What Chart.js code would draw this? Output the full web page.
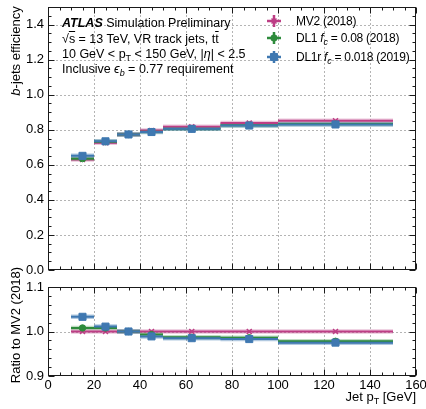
<!DOCTYPE html>
<html>
<head>
<meta charset="utf-8">
<script src="https://cdn.jsdelivr.net/npm/chart.js@4.4.1/dist/chart.umd.min.js"></script>
<style>
  body { margin: 0; background: #fff; font-family: "Liberation Sans", Arial, sans-serif; }
  #wrap { position: relative; width: 426px; height: 409px; overflow: hidden; }
  canvas { position: absolute; left: 0; }
  .t { position: absolute; font-size: 12.5px; line-height: 14px; color: #000; white-space: nowrap; }
  .t sub { font-size: 9px; vertical-align: -3px; line-height: 0; }
  .lg { font-size: 12px; letter-spacing: -0.25px; }
  .rot { transform: translate(-50%, -50%) rotate(-90deg); font-size: 13px; }
  .ov { text-decoration: overline; }
</style>
</head>
<body>
<div id="wrap">
  <canvas id="effChart" width="426" height="280" style="top:0"></canvas>
  <canvas id="ratioChart" width="426" height="129" style="top:280px"></canvas>

  <div class="t" style="left:62px;top:16px"><b><i>ATLAS</i></b> Simulation Preliminary</div>
  <div class="t" style="left:62px;top:32px">√<span class="ov">s</span> = 13 TeV, VR track jets, t<span class="ov">t</span></div>
  <div class="t" style="left:62px;top:47px">10 GeV &lt; p<sub>T</sub> &lt; 150 GeV, |<i>η</i>| &lt; 2.5</div>
  <div class="t" style="left:62px;top:62px">Inclusive <i>ϵ</i><sub><i>b</i></sub> = 0.77 requirement</div>

  <div class="t lg" style="left:296px;top:14px">MV2 (2018)</div>
  <div class="t lg" style="left:296px;top:31px">DL1 <i>f</i><sub><i>c</i></sub> = 0.08 (2018)</div>
  <div class="t lg" style="left:296px;top:50px">DL1r <i>f</i><sub><i>c</i></sub> = 0.018 (2019)</div>

  <div class="t rot" style="left:16px;top:51px"><i>b</i>-jets efficiency</div>
  <div class="t rot" style="left:16px;top:325px">Ratio to MV2 (2018)</div>
  <div class="t" style="right:10px;top:390px;font-size:13px">Jet p<sub>T</sub> [GeV]</div>
</div>

<script>
// bins in jet pT [GeV]
const binLow = [10, 20, 30, 40, 50, 75, 100];
const binHigh = [20, 30, 40, 50, 75, 100, 150];

// b-jet efficiency per bin
const effMV2 = [0.630, 0.726, 0.773, 0.795, 0.817, 0.838, 0.851];
const effDL1 = [0.635, 0.732, 0.773, 0.789, 0.806, 0.826, 0.832];
const effDL1r = [0.651, 0.734, 0.773, 0.787, 0.805, 0.824, 0.830];

// ratio to MV2
const ratioMV2 = [1.000, 1.000, 1.000, 1.000, 1.000, 1.000, 1.000];
const ratioDL1 = [1.008, 1.008, 1.000, 0.993, 0.987, 0.986, 0.978];
const ratioDL1r = [1.033, 1.011, 1.000, 0.989, 0.985, 0.983, 0.975];

const FONT = "'Liberation Sans', Arial, sans-serif";

const series = [
  { color: "#bd3e85", band: "rgba(189,62,133,0.3)", style: "crossRot", radius: 3.5 },
  { color: "#2e8b3c", band: "rgba(46,139,60,0.3)", style: "circle", radius: 3.2 },
  { color: "#3f78b1", band: "rgba(63,120,177,0.4)", style: "rect", radius: 5 },
];

function stepData(vals) {
  const d = [];
  vals.forEach((v, i) => {
    d.push({ x: binLow[i], y: v }, { x: binHigh[i], y: v }, { x: binHigh[i], y: null });
  });
  return d;
}

function centerData(vals) {
  return vals.map((v, i) => ({ x: (binLow[i] + binHigh[i]) / 2, y: v }));
}

function buildDatasets(lists) {
  const out = [];
  lists.forEach((vals, k) => {
    const s = series[k];
    out.push({
      data: stepData(vals), borderColor: s.band, borderWidth: 4.5, borderCapStyle: "butt",
      pointRadius: 0, spanGaps: false, order: 30 - k,
    });
    out.push({
      data: stepData(vals), borderColor: s.color, borderWidth: 2, borderCapStyle: "butt",
      pointRadius: 0, spanGaps: false, order: 20 - k,
    });
    out.push({
      data: centerData(vals), showLine: false, pointStyle: s.style, pointRadius: s.radius,
      pointBorderWidth: s.style === "crossRot" ? 1.5 : 1,
      pointBackgroundColor: s.color, pointBorderColor: s.color, order: 10 - k,
    });
  });
  return out;
}

// dashed grid + inward ticks on all four sides
const frame = {
  id: "frame",
  beforeDatasetsDraw(chart, args, o) {
    const { ctx, chartArea: a, scales: { x, y } } = chart;
    ctx.save();
    ctx.strokeStyle = "#b4b4b4";
    ctx.lineWidth = 1;
    ctx.setLineDash([2, 2]);
    o.xGrid.forEach((v) => {
      const px = Math.round(x.getPixelForValue(v)) + 0.5;
      ctx.beginPath(); ctx.moveTo(px, a.top); ctx.lineTo(px, a.bottom); ctx.stroke();
    });
    o.yGrid.forEach((v) => {
      const py = Math.round(y.getPixelForValue(v)) + 0.5;
      ctx.beginPath(); ctx.moveTo(a.left, py); ctx.lineTo(a.right, py); ctx.stroke();
    });
    ctx.restore();
  },
  afterDraw(chart, args, o) {
    const { ctx, chartArea: a, scales: { x, y } } = chart;
    ctx.save();
    ctx.strokeStyle = "#1a1a1a";
    ctx.lineWidth = 1;
    const L = Math.round(a.left) + 0.5, R = Math.round(a.right) - 0.5;
    const T = Math.round(a.top) + 0.5, B = Math.round(a.bottom) - 0.5;
    ctx.strokeRect(L, T, R - L, B - T);
    ctx.beginPath();
    const nx = Math.round((x.max - x.min) / o.xMinor);
    for (let i = 0; i <= nx; i++) {
      const v = x.min + i * o.xMinor;
      const len = Math.abs(v / o.xMajor - Math.round(v / o.xMajor)) < 1e-6 ? 6 : 3;
      const px = Math.round(x.getPixelForValue(v)) + 0.5;
      ctx.moveTo(px, B); ctx.lineTo(px, B - len);
      ctx.moveTo(px, T); ctx.lineTo(px, T + len);
    }
    const ny = Math.round((y.max - y.min) / o.yMinor);
    for (let i = 0; i <= ny; i++) {
      const v = y.min + i * o.yMinor;
      const len = Math.abs(v / o.yMajor - Math.round(v / o.yMajor)) < 1e-6 ? 6 : 3;
      const py = Math.round(y.getPixelForValue(v)) + 0.5;
      ctx.moveTo(L, py); ctx.lineTo(L + len, py);
      ctx.moveTo(R, py); ctx.lineTo(R - len, py);
    }
    ctx.stroke();
    ctx.restore();
  },
};

// legend markers with error-bar crosses
const legendMarks = {
  id: "legendMarks",
  afterDraw(chart) {
    const { ctx } = chart;
    const rows = [21, 38, 57];
    series.forEach((s, k) => {
      const cx = 274, cy = rows[k];
      ctx.save();
      ctx.strokeStyle = s.color;
      ctx.fillStyle = s.color;
      ctx.lineWidth = 2.5;
      ctx.beginPath();
      ctx.moveTo(cx - 7, cy); ctx.lineTo(cx + 7, cy);
      ctx.moveTo(cx, cy - 6); ctx.lineTo(cx, cy + 6);
      ctx.stroke();
      ctx.lineWidth = s.style === "crossRot" ? 1.5 : 1;
      Chart.helpers.drawPoint(ctx, {
        pointStyle: s.style, radius: s.radius, borderWidth: ctx.lineWidth,
      }, cx, cy);
      ctx.restore();
    });
  },
};

function fixY(w) {
  return (s) => { s.width = w; s.paddingTop = 0; s.paddingBottom = 0; };
}
function fixX(h) {
  return (s) => { s.height = h; s.paddingLeft = 0; s.paddingRight = 0; };
}

const tickFont = { family: FONT, size: 13 };

new Chart(document.getElementById("effChart"), {
  type: "line",
  data: { datasets: buildDatasets([effMV2, effDL1, effDL1r]) },
  plugins: [frame, legendMarks],
  options: {
    responsive: false,
    animation: false,
    events: [],
    layout: { padding: { left: 0, top: 7, right: 10, bottom: 10 } },
    scales: {
      x: {
        type: "linear", min: 0, max: 160,
        grid: { display: false, drawTicks: false }, border: { display: false },
        ticks: { display: false, stepSize: 20 },
        afterFit: fixX(0),
      },
      y: {
        min: 0, max: 1.5,
        grid: { display: false, drawTicks: false }, border: { display: false },
        ticks: {
          stepSize: 0.2, includeBounds: false, autoSkip: false, padding: 4,
          color: "#000", font: tickFont, callback: (v) => v.toFixed(1),
        },
        afterFit: fixY(48),
      },
    },
    plugins: {
      legend: { display: false },
      tooltip: { enabled: false },
      frame: {
        xGrid: [20, 40, 60, 80, 100, 120, 140], yGrid: [0.2, 0.4, 0.6, 0.8, 1.0, 1.2, 1.4],
        xMinor: 5, xMajor: 20, yMinor: 0.05, yMajor: 0.2,
      },
    },
  },
});

new Chart(document.getElementById("ratioChart"), {
  type: "line",
  data: { datasets: buildDatasets([ratioMV2, ratioDL1, ratioDL1r]) },
  plugins: [frame],
  options: {
    responsive: false,
    animation: false,
    events: [],
    layout: { padding: { left: 0, top: 7, right: 10, bottom: 0 } },
    scales: {
      x: {
        type: "linear", min: 0, max: 160,
        grid: { display: false, drawTicks: false }, border: { display: false },
        ticks: {
          stepSize: 20, autoSkip: false, maxRotation: 0, padding: 2,
          color: "#000", font: tickFont,
        },
        afterFit: fixX(33),
      },
      y: {
        min: 0.9, max: 1.1,
        grid: { display: false, drawTicks: false }, border: { display: false },
        ticks: {
          stepSize: 0.1, autoSkip: false, padding: 4,
          color: "#000", font: tickFont, callback: (v) => v.toFixed(1),
        },
        afterFit: fixY(48),
      },
    },
    plugins: {
      legend: { display: false },
      tooltip: { enabled: false },
      frame: {
        xGrid: [20, 40, 60, 80, 100, 120, 140], yGrid: [1.0],
        xMinor: 5, xMajor: 20, yMinor: 0.02, yMajor: 0.1,
      },
    },
  },
});
</script>
</body>
</html>
